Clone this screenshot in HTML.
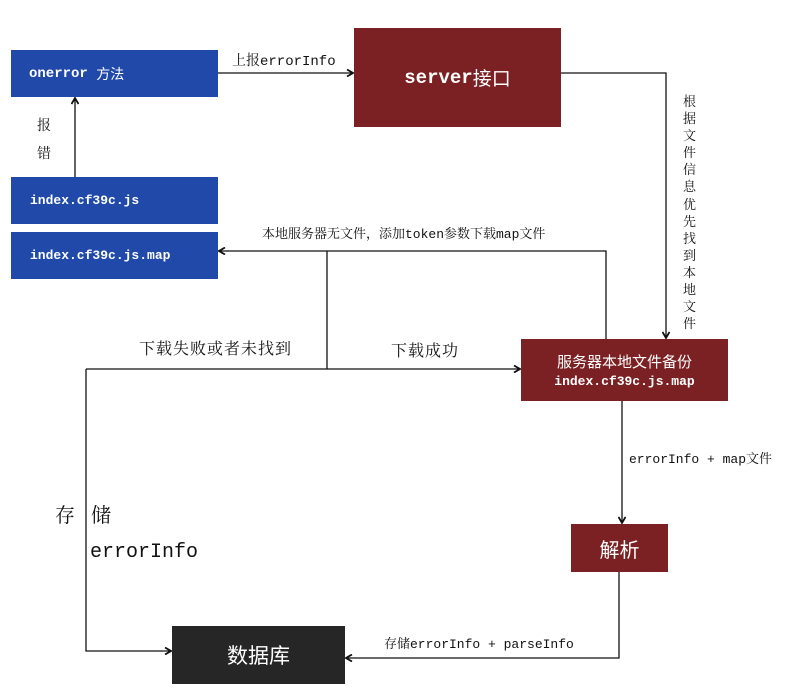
<!DOCTYPE html>
<html><head><meta charset="utf-8"><style>
body{margin:0;width:811px;height:699px;background:#fff;position:relative;overflow:hidden;font-family:"Liberation Mono","Noto Sans CJK SC",monospace;}
.b{position:absolute;color:#fff;display:flex;align-items:center;}
.t{position:absolute;color:#111;white-space:nowrap;font-family:"Liberation Mono","Noto Serif CJK SC",serif;}
</style></head><body>
<div class="b" style="left:11px;top:50px;width:207px;height:47px;background:#2049a9;font-size:14px;font-weight:bold;padding-left:18px;box-sizing:border-box;">onerror&nbsp;<span style="font-weight:normal;font-family:'Noto Sans CJK SC',sans-serif">方法</span></div>
<div class="b" style="left:11px;top:177px;width:207px;height:47px;background:#2049a9;font-size:13px;font-weight:bold;padding-left:19px;box-sizing:border-box;">index.cf39c.js</div>
<div class="b" style="left:11px;top:232px;width:207px;height:47px;background:#2049a9;font-size:13px;font-weight:bold;padding-left:19px;box-sizing:border-box;">index.cf39c.js.map</div>
<div class="b" style="left:354px;top:28px;width:207px;height:99px;background:#7b2123;font-size:19px;font-weight:bold;justify-content:center;">server<span style="font-weight:normal;font-family:'Noto Sans CJK SC',sans-serif">接口</span></div>
<div class="b" style="left:521px;top:339px;width:207px;height:62px;background:#7b2123;flex-direction:column;justify-content:center;">
<div style="font-family:'Noto Sans CJK SC',sans-serif;font-size:15px;">服务器本地文件备份</div>
<div style="font-size:13px;font-weight:bold;margin-top:2px;">index.cf39c.js.map</div></div>
<div class="b" style="left:571px;top:524px;width:97px;height:48px;background:#7b2123;font-family:'Noto Sans CJK SC',sans-serif;font-size:20px;justify-content:center;">解析</div>
<div class="b" style="left:172px;top:626px;width:173px;height:58px;background:#262626;font-family:'Noto Sans CJK SC',sans-serif;font-size:21px;justify-content:center;">数据库</div>

<svg width="811" height="699" style="position:absolute;left:0;top:0" fill="none" stroke="#111" stroke-width="1.3">
<defs><marker id="a" markerWidth="8" markerHeight="8" refX="7" refY="4" orient="auto" markerUnits="userSpaceOnUse"><path d="M1,0.5 L7,4 L1,7.5" stroke="#111" stroke-width="1.8" fill="none"/></marker></defs>
<path d="M218,73 H353" marker-end="url(#a)"/>
<path d="M75,177 V98" marker-end="url(#a)"/>
<path d="M561,73 H666 V338" marker-end="url(#a)"/>
<path d="M606,339 V251 H219" marker-end="url(#a)"/>
<path d="M327,251 V369"/>
<path d="M86,369 H520" marker-end="url(#a)"/>
<path d="M86,369 V651 H171" marker-end="url(#a)"/>
<path d="M622,401 V523" marker-end="url(#a)"/>
<path d="M619,572 V658 H346" marker-end="url(#a)"/>
</svg>

<div class="t" style="left:232px;top:50px;font-size:14px;">上报errorInfo</div>
<div class="t" style="left:37px;top:115px;font-size:14px;">报</div>
<div class="t" style="left:37px;top:143px;font-size:14px;">错</div>
<div class="t" style="left:262px;top:223px;font-size:13px;">本地服务器无文件，添加token参数下载map文件</div>
<div class="t" style="left:683px;top:94px;font-size:13px;line-height:17.1px;white-space:normal;width:14px;">根据文件信息优先找到本地文件</div>
<div class="t" style="left:139px;top:336px;font-size:16px;letter-spacing:1px;">下载失败或者未找到</div>
<div class="t" style="left:391px;top:338px;font-size:16px;letter-spacing:1px;">下载成功</div>
<div class="t" style="left:629px;top:448px;font-size:13px;">errorInfo + map文件</div>
<div class="t" style="left:55px;top:499px;font-size:20px;">存</div>
<div class="t" style="left:91px;top:499px;font-size:20px;">储</div>
<div class="t" style="left:90px;top:541px;font-size:20px;">errorInfo</div>
<div class="t" style="left:384px;top:633px;font-size:13px;">存储errorInfo + parseInfo</div>
</body></html>
